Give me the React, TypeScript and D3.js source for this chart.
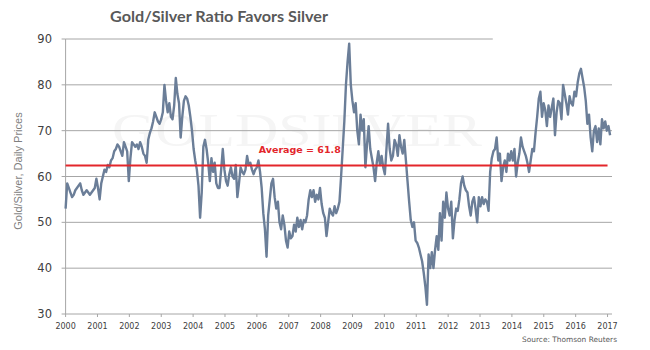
import React from 'react';
import * as d3 from 'd3';

// Gold/Silver ratio readings, ~20 per chart year, evenly spaced in time from 2000 to early 2017
const ratio00 = [53, 58.5, 57.5, 56.5, 55.5, 56, 57, 57.5, 58, 58.5, 57, 56, 56.5, 57, 56.5, 56, 56.5, 57, 57.5, 59.5];
const ratio01 = [57.5, 55, 58.5, 60, 61.5, 61, 62.5, 62, 63.5, 64, 65.5, 66, 67, 66.5, 65.5, 64.5, 67.5, 66.5, 65.5, 59];
const ratio02 = [64, 67.5, 67, 66.5, 67, 66, 67.5, 66.5, 65, 64.5, 63, 68, 69.5, 70.5, 72, 74, 73, 72, 71.5, 72.5];
const ratio03 = [74, 80, 76.5, 74, 76, 73, 72.5, 75.5, 81.5, 78, 76, 68.5, 73, 76.5, 77.5, 77, 75.5, 73, 70, 66];
const ratio04 = [63.5, 61.5, 58, 51, 56.5, 66.5, 68, 66, 63, 59, 64, 61, 63, 58.5, 57.5, 57.5, 61.5, 66, 61.5, 59];
const ratio05 = [58, 60.5, 62, 60, 59.5, 62.5, 55.5, 58.5, 62, 61, 60.5, 61.5, 64.5, 62.5, 63, 61.5, 60.5, 61.5, 62, 63.5];
const ratio06 = [61, 57.5, 52, 48.5, 42.5, 51.5, 55, 58.5, 59.5, 55.5, 53, 54.5, 50, 48.5, 51.5, 49.5, 46, 44.5, 48, 46.5];
const ratio07 = [47, 49.5, 48, 51, 49, 50.5, 48.5, 50.5, 50, 51.5, 55, 57, 55.5, 57, 54.5, 56, 55, 57.5, 54, 52];
const ratio08 = [51, 47, 50, 53, 52, 51.5, 53.5, 52, 53, 54.5, 60, 66, 72, 80, 85, 89, 80, 76.5, 74, 76];
const ratio09 = [70, 67, 73.5, 70, 72.5, 62, 67, 71, 66, 64, 62, 59, 63, 65.5, 62.5, 64.5, 62, 60.5, 66, 71.5];
const ratio10 = [66, 63.5, 64.5, 68, 67, 64.5, 69, 66.5, 65, 68, 63.5, 59, 54.5, 50.5, 49, 50, 46, 45.5, 44.5, 43];
const ratio11 = [41.5, 39, 36, 32, 43, 40, 43.5, 40, 44, 47, 44, 52, 46, 54.5, 51, 56.5, 53, 51.5, 54.5, 46.5];
const ratio12 = [50.5, 53, 52.5, 55, 58.5, 60, 58, 57, 56.5, 53.5, 51.5, 54.5, 55.5, 53, 50, 55.5, 53.5, 55.5, 54, 55];
const ratio13 = [54.5, 52.5, 61, 64, 65.5, 66, 68.5, 63.5, 65, 59, 62, 63.5, 61, 65, 63.5, 65.5, 63.5, 66, 60, 63];
const ratio14 = [65, 68.5, 66.5, 65.5, 64.5, 63, 61, 63.5, 66, 65.5, 69.5, 73, 77, 78.5, 73, 76, 74.5, 71, 75.5, 73];
const ratio15 = [75, 77, 69, 74, 76.5, 76, 72.5, 80, 78, 76, 73.5, 77.5, 76, 75.5, 78.5, 77.5, 80.5, 82.5, 83.5, 81.5];
const ratio16 = [79.5, 76.5, 71.5, 73.5, 68.5, 65.5, 70, 71, 67.5, 70.5, 67, 72.5, 70.5, 72, 70, 71, 69];

const seriesStart = 2000;
const seriesEnd = 2017.08;
const years = d3.range(2000, 2018);
const yTicks = [30, 40, 50, 60, 70, 80, 90];
const averageLabel = 'Average = 61.8';
const averageLevel = 62.4; // where the red line sits in the picture

const W = 650;
const H = 350;

export default function App() {
  const values = [ratio00, ratio01, ratio02, ratio03, ratio04, ratio05, ratio06, ratio07, ratio08,
    ratio09, ratio10, ratio11, ratio12, ratio13, ratio14, ratio15, ratio16].flat();
  const n = values.length;
  const data = values.map((v, i) => ({ t: seriesStart + i * (seriesEnd - seriesStart) / (n - 1), v }));

  const x = d3.scaleLinear().domain([2000, 2017.14]).range([65.6, 612]);
  const y = d3.scaleLinear().domain([30, 90]).range([314, 39]);

  const line = d3.line<{ t: number; v: number }>()
    .x(d => x(d.t))
    .y(d => y(d.v));

  const axisColor = '#a6a6a6';
  const gridColor = '#a6a6a6';
  const tickFont = 'DejaVu Sans, Verdana, sans-serif';

  return (
    <svg width={W} height={H} style={{ position: 'absolute', left: 0, top: 0, background: '#fff' }}>
      {/* watermark */}
      <text x={112} y={146} fontFamily="Liberation Serif, serif" fontSize={46} fill="#f5f5f5"
        textLength={370} lengthAdjust="spacingAndGlyphs">GOLDSILVER</text>

      {/* title */}
      <text x={110} y={22} fontFamily="Lato, Open Sans, sans-serif" fontWeight="bold" fontSize={16}
        fill="#595959" textLength={218} lengthAdjust="spacingAndGlyphs">Gold/Silver Ratio Favors Silver</text>

      {/* gridlines */}
      {yTicks.filter(t => t > 30).map(t => (
        <line key={t} x1={x(2000)} x2={t === 90 ? x(2013.4) : x(2017.14)} y1={y(t)} y2={y(t)}
          stroke={gridColor} strokeWidth={1} />
      ))}

      {/* y axis */}
      <line x1={x(2000)} x2={x(2000)} y1={y(90)} y2={y(30)} stroke={axisColor} strokeWidth={1} />
      {yTicks.map(t => (
        <g key={t}>
          <line x1={x(2000) - 4} x2={x(2000)} y1={y(t)} y2={y(t)} stroke={axisColor} />
          <text x={52} y={y(t)} dy="0.36em" textAnchor="end" fontFamily={tickFont} fontSize={11.5}
            fill="#404040">{t}</text>
        </g>
      ))}

      {/* x axis */}
      <line x1={x(2000)} x2={x(2017.14)} y1={y(30)} y2={y(30)} stroke={axisColor} strokeWidth={1} />
      {years.map(yr => (
        <g key={yr}>
          <line x1={x(yr)} x2={x(yr)} y1={y(30)} y2={y(30) + 3} stroke={axisColor} />
          <text x={x(yr)} y={y(30) + 15} textAnchor="middle" fontFamily={tickFont} fontSize={8}
            fill="#404040">{yr}</text>
        </g>
      ))}

      {/* ratio line */}
      <path d={line(data) || ''} fill="none" stroke="#6b7e98" strokeWidth={2.4} strokeLinejoin="round" />

      {/* average */}
      <line x1={x(2000)} x2={x(2017)} y1={y(averageLevel)} y2={y(averageLevel)} stroke="#e3262b" strokeWidth={2} />
      <text x={x(2006.06)} y={y(averageLevel) - 13} fontFamily={tickFont} fontWeight="bold" fontSize={9.5}
        fill="#e3262b">{averageLabel}</text>

      {/* y axis title */}
      <text transform={`translate(22,${171}) rotate(-90)`} textAnchor="middle"
        fontFamily="Liberation Sans Narrow, Arial Narrow, Arial, sans-serif" fontSize={11} fill="#7f7f7f">
        Gold/Silver, Daily Prices
      </text>

      {/* source */}
      <text x={617} y={342} textAnchor="end" fontFamily={tickFont} fontSize={7.4} fill="#595959">
        Source: Thomson Reuters
      </text>
    </svg>
  );
}
